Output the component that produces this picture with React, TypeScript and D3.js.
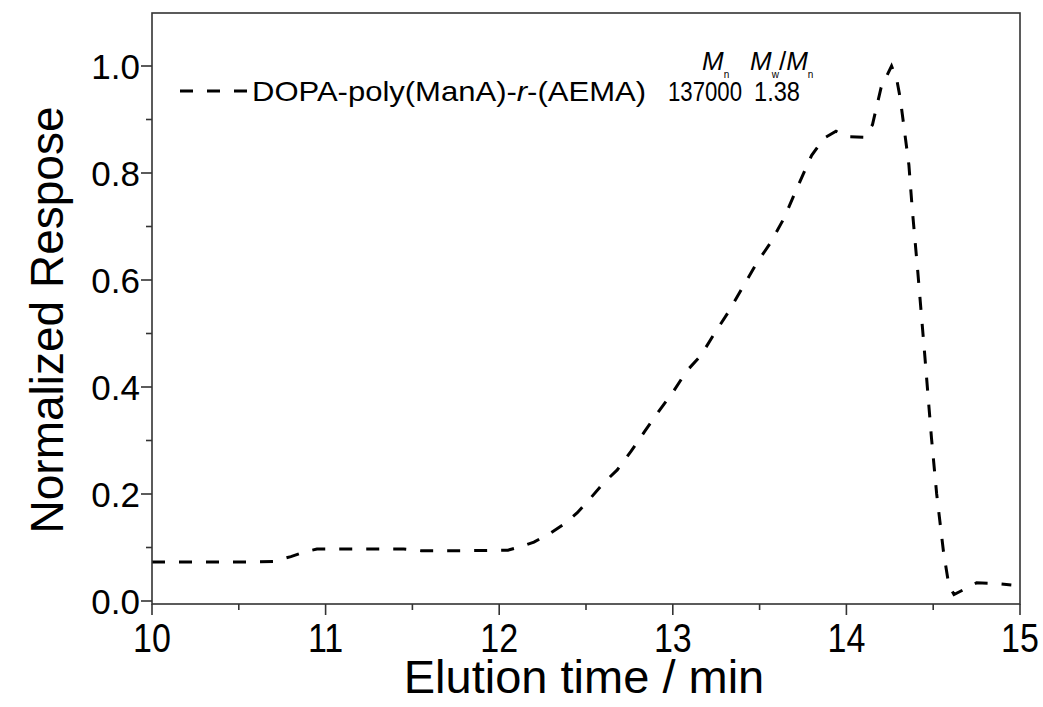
import * as d3 from 'd3';

// elution trace
const TIMES = [
    10.0, 10.3, 10.6, 10.7, 10.8, 10.88, 10.95, 11.2, 11.45, 11.55, 11.8, 12.05, 12.12, 12.2, 12.3,
    12.38, 12.45, 12.52, 12.6, 12.68, 12.76, 12.84, 12.92, 13.0, 13.08, 13.16, 13.24, 13.32, 13.4,
    13.48, 13.56, 13.64, 13.72, 13.8, 13.87, 13.94, 14.0, 14.1, 14.15, 14.2, 14.26, 14.29, 14.31,
    14.33, 14.36, 14.38, 14.41, 14.45, 14.49, 14.52, 14.56, 14.59, 14.62, 14.68, 14.75, 14.85, 14.95,
];
const RESPONSE = [
    0.073, 0.073, 0.073, 0.074, 0.083, 0.092, 0.097, 0.097, 0.097, 0.094, 0.094, 0.095, 0.101, 0.11,
    0.128, 0.145, 0.165, 0.19, 0.22, 0.245, 0.28, 0.318, 0.355, 0.39, 0.43, 0.458, 0.5, 0.54, 0.585,
    0.63, 0.668, 0.715, 0.775, 0.833, 0.865, 0.878, 0.868, 0.867, 0.89, 0.96, 1.0, 0.975, 0.94,
    0.89, 0.815, 0.73, 0.62, 0.465, 0.305, 0.2, 0.09, 0.03, 0.012, 0.022, 0.034, 0.033, 0.03,
];

const X_TICKS = [10, 11, 12, 13, 14, 15];
const X_MINOR = [10.5, 11.5, 12.5, 13.5, 14.5];
const Y_TICKS = [0, 0.2, 0.4, 0.6, 0.8, 1.0];
const Y_MINOR = [0.1, 0.3, 0.5, 0.7, 0.9];

const SERIES_NAME = 'DOPA-poly(ManA)-';
const SERIES_TAIL = '-(AEMA)';
const MN = '137000';
const PDI = '1.38';

const FONT = '"Liberation Sans", Arial, sans-serif';
const AXIS = '#333';

export default function App() {
    const width = 1043;
    const height = 707;
    const left = 152;
    const right = 1020;
    const top = 13;
    const bottom = 604;

    const x = d3.scaleLinear().domain([10, 15]).range([left, right]);
    const y = d3.scaleLinear().domain([0, 1]).range([601, 66]);

    const line = d3
        .line<number>()
        .x((_d, i) => x(TIMES[i]))
        .y((d) => y(d));

    return (
        <svg width={width} height={height} style={{ display: 'block', position: 'absolute', left: 0, top: 0 }}>
            <rect width={width} height={height} fill="#fff" />
            <path d={line(RESPONSE) ?? ''} fill="none" stroke="#000" strokeWidth={3} strokeDasharray="13,14" />

            {/* frame */}
            <rect x={left} y={top} width={right - left} height={bottom - top} fill="none" stroke={AXIS} strokeWidth={1.6} />

            {X_TICKS.map((t) => (
                <g key={`x${t}`}>
                    <line x1={x(t)} x2={x(t)} y1={bottom} y2={bottom + 11} stroke={AXIS} strokeWidth={1.6} />
                    <text x={x(t)} y={bottom + 48} textAnchor="middle" fontFamily={FONT} fontSize={40} fill="#000"
                        transform={`translate(${x(t)},0) scale(0.85,1) translate(${-x(t)},0)`}>
                        {t}
                    </text>
                </g>
            ))}
            {X_MINOR.map((t) => (
                <line key={`xm${t}`} x1={x(t)} x2={x(t)} y1={bottom} y2={bottom + 6} stroke={AXIS} strokeWidth={1.6} />
            ))}
            {Y_TICKS.map((v) => (
                <g key={`y${v}`}>
                    <line x1={left - 11} x2={left} y1={y(v)} y2={y(v)} stroke={AXIS} strokeWidth={1.6} />
                    <text x={left - 12} y={y(v)} dy="0.36em" textAnchor="end" fontFamily={FONT} fontSize={35} fill="#000">
                        {v.toFixed(1)}
                    </text>
                </g>
            ))}
            {Y_MINOR.map((v) => (
                <line key={`ym${v}`} x1={left - 6} x2={left} y1={y(v)} y2={y(v)} stroke={AXIS} strokeWidth={1.6} />
            ))}

            <text x={584} y={693} textAnchor="middle" fontFamily={FONT} fontSize={47} fill="#000">
                Elution time / min
            </text>
            <text transform="translate(63,320) rotate(-90)" textAnchor="middle" fontFamily={FONT} fontSize={46} fill="#000">
                Normalized Respose
            </text>

            {/* legend */}
            <line x1={180} x2={247} y1={91} y2={91} stroke="#000" strokeWidth={3} strokeDasharray="13,14" />
            <text x={252} y={101} fontFamily={FONT} fontSize={28} fill="#000" textLength={394} lengthAdjust="spacingAndGlyphs">
                {SERIES_NAME}
                <tspan fontStyle="italic">r</tspan>
                {SERIES_TAIL}
            </text>
            <text x={668} y={101} fontFamily={FONT} fontSize={28} fill="#000" textLength={74} lengthAdjust="spacingAndGlyphs">
                {MN}
            </text>
            <text x={754} y={101} fontFamily={FONT} fontSize={28} fill="#000" textLength={46} lengthAdjust="spacingAndGlyphs">
                {PDI}
            </text>
            <text x={702} y={70} fontFamily={FONT} fontSize={26} fill="#000">
                <tspan fontStyle="italic">M</tspan>
                <tspan fontSize={10} dy={8}>n</tspan>
            </text>
            <text x={750} y={70} fontFamily={FONT} fontSize={26} fill="#000">
                <tspan fontStyle="italic">M</tspan>
                <tspan fontSize={10} dy={8}>w</tspan>
                <tspan dy={-8}>/</tspan>
                <tspan fontStyle="italic">M</tspan>
                <tspan fontSize={10} dy={8}>n</tspan>
            </text>
        </svg>
    );
}
